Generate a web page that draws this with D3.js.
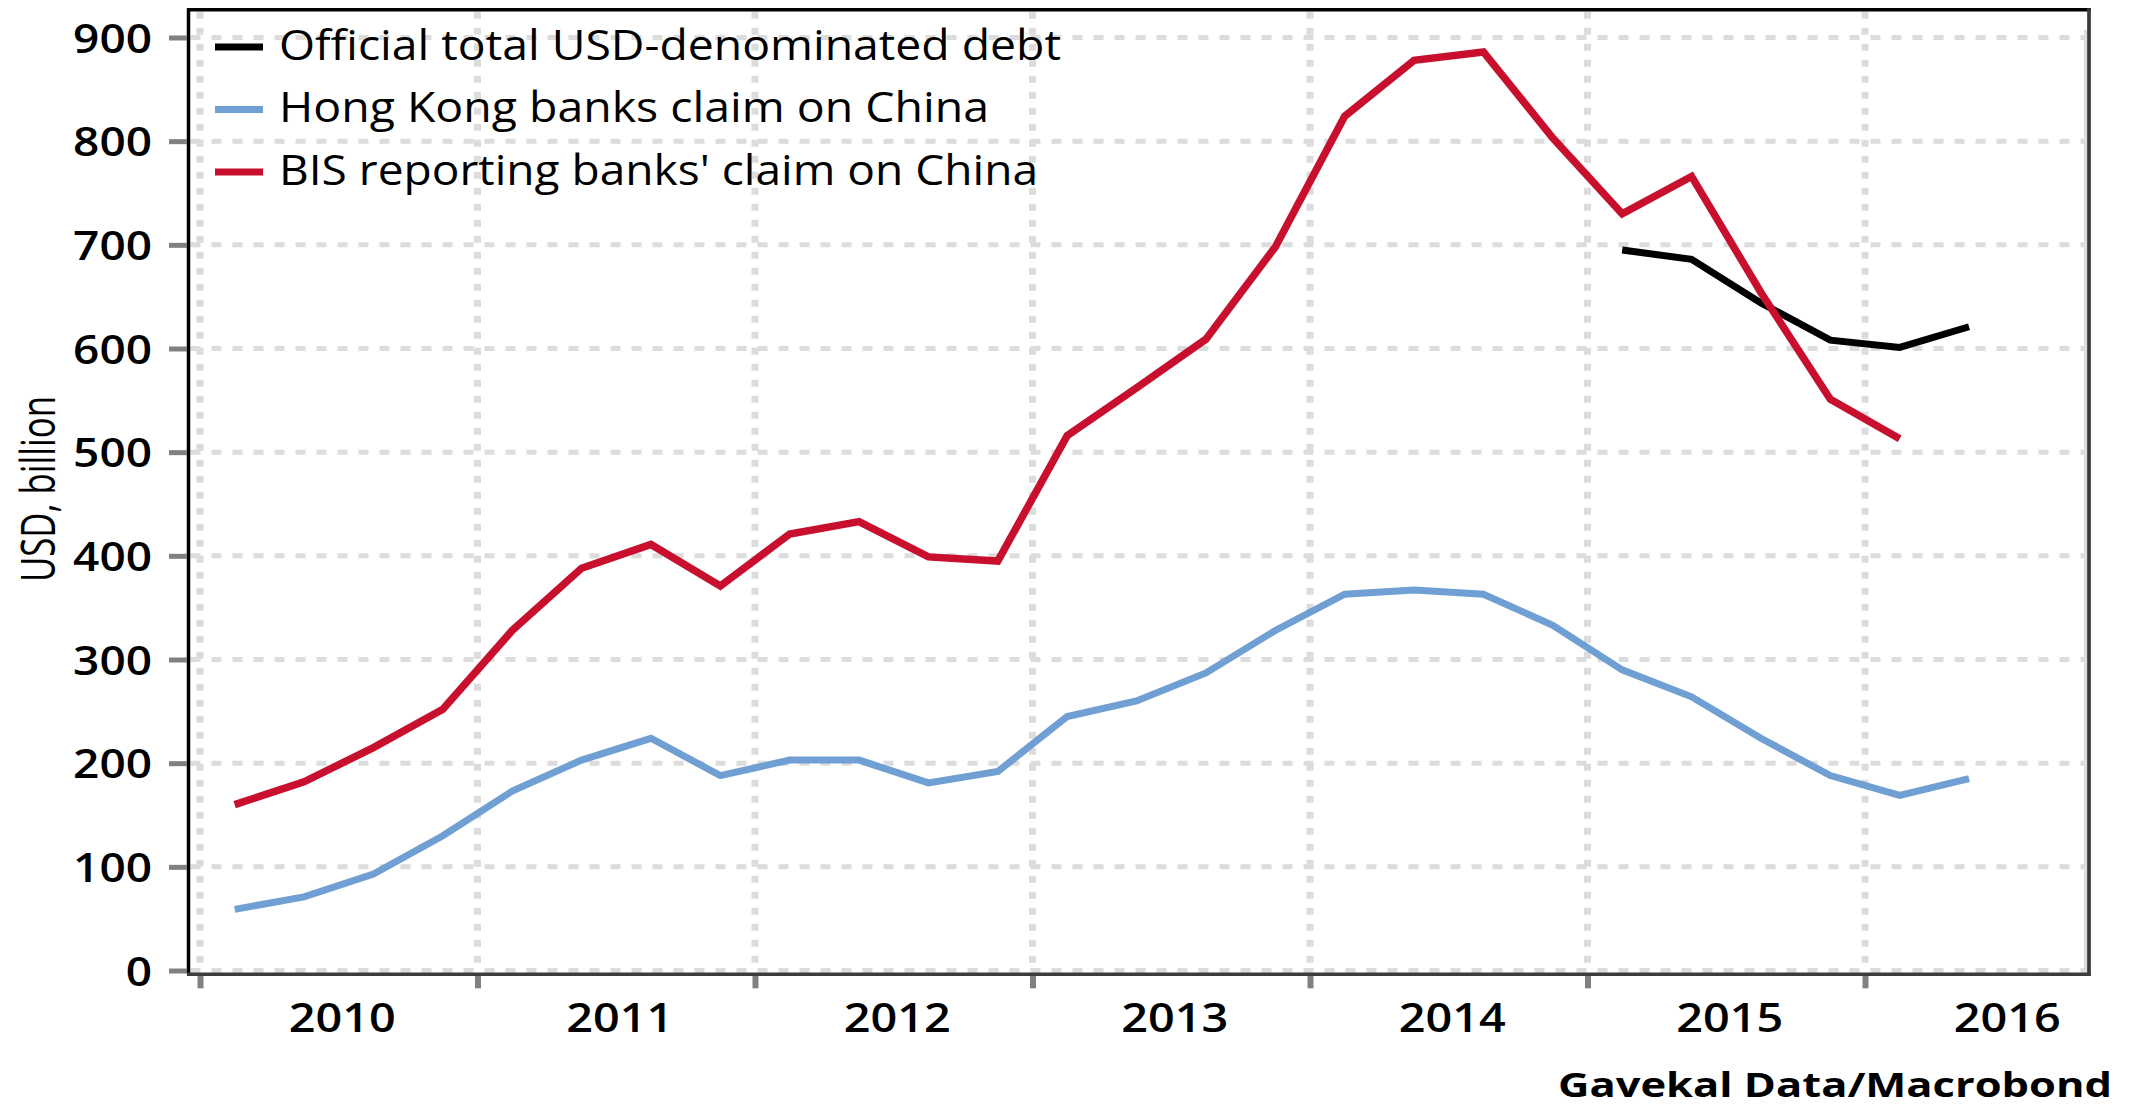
<!DOCTYPE html>
<html><head><meta charset="utf-8">
<script src="https://cdn.jsdelivr.net/npm/d3@7"></script>
<style>html,body{margin:0;padding:0;background:#fff;} svg{display:block}</style>
</head><body><svg id="chart" width="2134" height="1108"></svg>
<script>
// ---- data ----
const quarters = ["2010Q1","2010Q2","2010Q3","2010Q4","2011Q1","2011Q2","2011Q3","2011Q4",
  "2012Q1","2012Q2","2012Q3","2012Q4","2013Q1","2013Q2","2013Q3","2013Q4",
  "2014Q1","2014Q2","2014Q3","2014Q4","2015Q1","2015Q2","2015Q3","2015Q4","2016Q1","2016Q2"];
const hkClaims = [59,71,93,130,173,203,224,188,203,203,181,192,245,260,287,328,363,367,363,333,290,264,224,188,169,185];
const bisQuarters = quarters.slice(0,25);
const bisClaims = [160,182,215,252,328,388,411,371,421,433,399,395,516,562,609,698,824,878,886,803,730,766,654,551,513];
const officialQuarters = ["2015Q1","2015Q2","2015Q3","2015Q4","2016Q1","2016Q2"];
const officialDebt = [695,686,644,608,601,621];
const yTicks = [0,100,200,300,400,500,600,700,800,900];
const yearTicks = [2010,2011,2012,2013,2014,2015,2016];
const yearLabels = ["2010","2011","2012","2013","2014","2015","2016"];
const seriesNames = ["Official total USD-denominated debt","Hong Kong banks claim on China","BIS reporting banks' claim on China"];
const seriesColors = ["#000000","#6f9fd3","#c8102e"];
const yTitle = "USD, billion";
const sourceText = "Gavekal Data/Macrobond";

// ---- layout ----
const svg = d3.select("#chart");
const FONT = "'Open Sans', 'Noto Sans', sans-serif";
const x = d3.scaleLinear().domain([2010, 2016]).range([200, 1865]);
const y = d3.scaleLinear().domain([0, 900]).range([970.5, 37.5]);
const qPos = q => x(+q.slice(0, 4) + (+q.slice(5) - 0.5) / 4);
const xLeft = 188.5, xRight = 2089, yTop = 9.7, yBottom = 974.3;

// gridlines
const grid = svg.append("g");
grid.selectAll("line.h").data(yTicks).join("line")
  .attr("x1", xLeft + 2).attr("x2", xRight - 4)
  .attr("y1", d => y(d)).attr("y2", d => y(d))
  .attr("stroke", "#dcdcdc").attr("stroke-width", 5).attr("stroke-dasharray", "10,11");
grid.selectAll("line.v").data(yearTicks).join("line")
  .attr("x1", d => x(d)).attr("x2", d => x(d))
  .attr("y1", yTop + 2).attr("y2", y(0))
  .attr("stroke", "#dcdcdc").attr("stroke-width", 7).attr("stroke-dasharray", "7,9");
grid.append("line").attr("x1", xRight - 3.5).attr("x2", xRight - 3.5)
  .attr("y1", yTop + 20).attr("y2", yBottom).attr("stroke", "#dcdcdc").attr("stroke-width", 3);

// series
const line = d3.line().x(d => qPos(d[0])).y(d => y(d[1]));
const series = [
  {pts: d3.zip(officialQuarters, officialDebt), color: seriesColors[0], w: 7},
  {pts: d3.zip(quarters, hkClaims), color: seriesColors[1], w: 7},
  {pts: d3.zip(bisQuarters, bisClaims), color: seriesColors[2], w: 7.5}
];
svg.append("g").selectAll("path").data([series[1], series[0], series[2]]).join("path")
  .attr("d", d => line(d.pts)).attr("fill", "none")
  .attr("stroke", d => d.color).attr("stroke-width", d => d.w)
  .attr("stroke-linejoin", "miter").attr("stroke-miterlimit", 3);

// frame
svg.append("line").attr("x1", xLeft).attr("x2", xLeft).attr("y1", yTop - 1.5).attr("y2", yBottom)
  .attr("stroke", "#000").attr("stroke-width", 3.5);
svg.append("line").attr("x1", xLeft - 1.5).attr("x2", xRight + 1.8).attr("y1", yTop).attr("y2", yTop)
  .attr("stroke", "#000").attr("stroke-width", 3.5);
svg.append("line").attr("x1", xRight).attr("x2", xRight).attr("y1", yTop - 1.5).attr("y2", yBottom + 1.8)
  .attr("stroke", "#3a3a3a").attr("stroke-width", 3.7);

// y axis
const yAxis = svg.append("g").attr("transform", `translate(${xLeft - 1.5},0)`)
  .call(d3.axisLeft(y).tickValues(yTicks).tickSize(18).tickPadding(17).tickFormat(d3.format("d")));
yAxis.select(".domain").remove();
yAxis.selectAll(".tick line").attr("stroke", "#808080").attr("stroke-width", 5);
yAxis.selectAll(".tick text").attr("fill", "#000").attr("font-family", FONT).attr("font-size", 40)
  .attr("font-weight", 600)
  .attr("dy", "0.35em").attr("y", 0.5)
  .attr("textLength", d => String(d).length * 26.3).attr("lengthAdjust", "spacingAndGlyphs");

// x axis (ticks at year boundaries)
const xAxis = svg.append("g").attr("transform", `translate(0,${yBottom})`)
  .call(d3.axisBottom(x).tickValues(yearTicks).tickSize(14).tickFormat(""));
xAxis.select(".domain").attr("d", `M${xLeft - 1.5},0H${xRight + 1.8}`)
  .attr("stroke", "#3c3c3c").attr("stroke-width", 3.5);
xAxis.selectAll(".tick line").attr("stroke", "#808080").attr("stroke-width", 6).attr("y1", 1.7);

// year labels at mid-year
const xLab = svg.append("g").attr("transform", `translate(0,${yBottom})`)
  .call(d3.axisBottom(x).tickValues(yearTicks.map(v => v + 0.5)).tickSize(0).tickPadding(0)
    .tickFormat((d, i) => yearLabels[i]));
xLab.select(".domain").remove();
xLab.selectAll(".tick text").attr("fill", "#000").attr("font-family", FONT).attr("font-size", 39)
  .attr("font-weight", 600)
  .attr("dy", 0).attr("y", 57.4).attr("x", 3)
  .attr("textLength", 107).attr("lengthAdjust", "spacingAndGlyphs");

// y title
svg.append("text").attr("transform", "translate(55,489) rotate(-90)")
  .attr("text-anchor", "middle").attr("font-family", FONT).attr("font-size", 48)
  .attr("font-weight", 500)
  .attr("textLength", 186).attr("lengthAdjust", "spacingAndGlyphs")
  .attr("fill", "#000").text(yTitle);

// legend
const legendW = [782, 710, 759];
const leg = svg.append("g").selectAll("g").data(seriesNames).join("g")
  .attr("transform", (d, i) => `translate(0,${59.5 + i * 62.5})`);
leg.append("line").attr("x1", 215).attr("x2", 263).attr("y1", -12.5).attr("y2", -12.5)
  .attr("stroke", (d, i) => seriesColors[i]).attr("stroke-width", 7);
leg.append("text").attr("x", 279).attr("y", 0).attr("font-family", FONT).attr("font-size", 42)
  .attr("font-weight", 500)
  .attr("fill", "#000").attr("textLength", (d, i) => legendW[i]).attr("lengthAdjust", "spacingAndGlyphs")
  .text(d => d);

// source
svg.append("text").attr("x", 2112).attr("y", 1097).attr("text-anchor", "end")
  .attr("font-family", FONT).attr("font-weight", 700).attr("font-size", 34)
  .attr("textLength", 554).attr("lengthAdjust", "spacingAndGlyphs")
  .attr("fill", "#000").text(sourceText);
</script></body></html>
